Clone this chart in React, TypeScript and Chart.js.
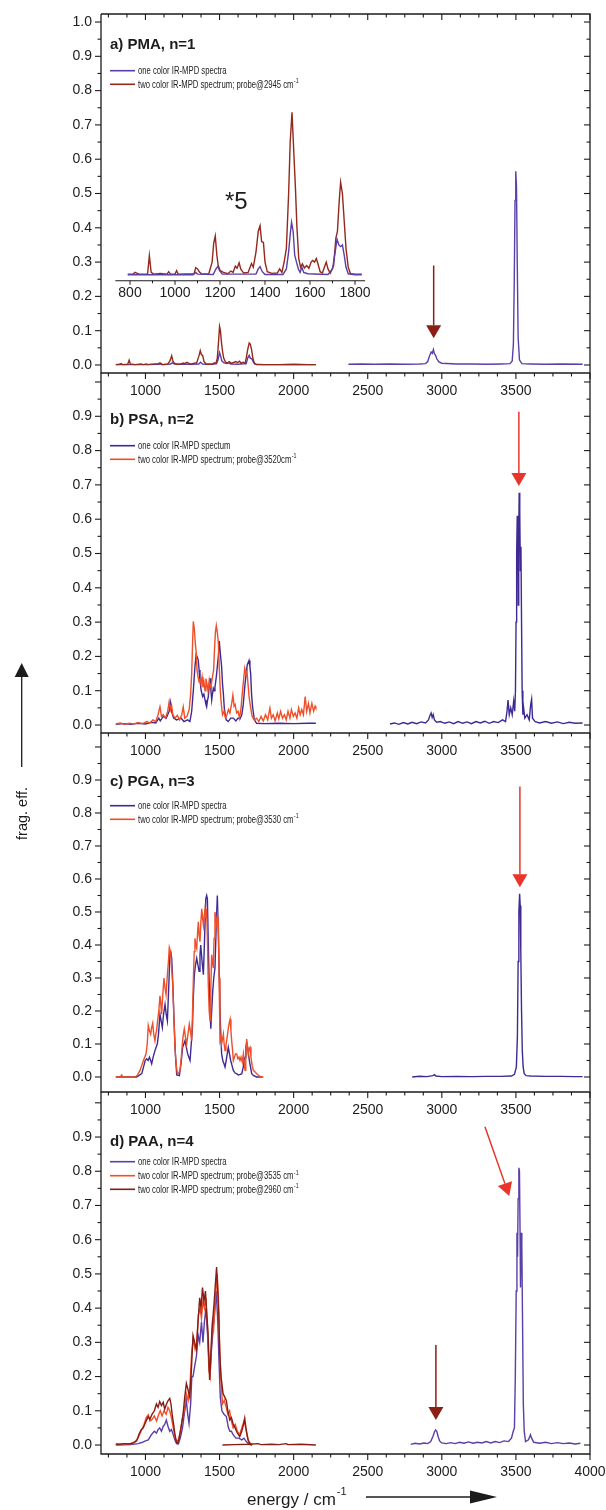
import React, { useEffect, useRef } from 'react';
import { Chart, registerables } from 'chart.js';

Chart.register(...registerables);

type Pt = [number, number];

const FONT = '"Liberation Sans", Arial, Helvetica, sans-serif';
const W = 606;
const H = 1510;
const INK = '#1c1c1c';

const PURPLE_A = '#5b3ea8';
const PURPLE_B = '#3f2a94';
const BROWN = '#93281c';
const ORANGE = '#ef4f29';
const DARKRED = '#871c14';
const ARROW_RED = '#e8342b';
const ARROW_BROWN = '#8a1f16';

// ---------- axes / tick labels ----------
const X_MIN = 700;
const X_MAX = 4000;
const X_LABELS_ABC = [1000, 1500, 2000, 2500, 3000, 3500];
const X_LABELS_D = [1000, 1500, 2000, 2500, 3000, 3500, 4000];
const Y_LABELS_A = [0, 0.1, 0.2, 0.3, 0.4, 0.5, 0.6, 0.7, 0.8, 0.9, 1.0];
const Y_LABELS_BCD = [0, 0.1, 0.2, 0.3, 0.4, 0.5, 0.6, 0.7, 0.8, 0.9];
const INSET_X_LABELS = [800, 1000, 1200, 1400, 1600, 1800];

// ---------- panel a) PMA ----------
const A_RED_LEFT: Pt[] = [
  [800, 0.001], [825, 0.002], [835, 0.004], [845, 0.001], [880, 0.002], [890, 0.014], [898, 0.003], [930, 0.001],
  [970, 0.003], [985, 0.001], [1005, 0.003], [1015, 0.001], [1090, 0.004], [1098, 0.006], [1106, 0.004], [1115, 0.001],
  [1150, 0.002], [1165, 0.012], [1177, 0.027], [1185, 0.012], [1195, 0.005], [1210, 0.002], [1240, 0.003], [1255, 0.006],
  [1265, 0.004], [1280, 0.008], [1290, 0.005], [1305, 0.002], [1335, 0.006], [1345, 0.005], [1360, 0.025], [1370, 0.042],
  [1378, 0.03], [1386, 0.028], [1395, 0.01], [1410, 0.002], [1450, 0.002], [1465, 0.006], [1475, 0.004], [1485, 0.02],
  [1492, 0.06], [1500, 0.112], [1506, 0.1], [1512, 0.07], [1520, 0.04], [1528, 0.02], [1540, 0.008], [1555, 0.006],
  [1565, 0.01], [1580, 0.005], [1600, 0.008], [1610, 0.01], [1620, 0.007], [1635, 0.011], [1645, 0.005], [1660, 0.008],
  [1672, 0.004], [1680, 0.02], [1690, 0.045], [1700, 0.064], [1708, 0.06], [1716, 0.045], [1725, 0.02], [1735, 0.005],
  [1750, 0.001], [1800, 0.001], [1900, 0.001], [2000, 0.002], [2100, 0.001], [2150, 0.001],
];
const A_BLUE_LEFT: Pt[] = [
  [800, 0.001], [900, 0.001], [1000, 0.001], [1090, 0.002], [1100, 0.003], [1110, 0.001], [1170, 0.003], [1182, 0.006],
  [1195, 0.003], [1250, 0.002], [1300, 0.002], [1360, 0.003], [1372, 0.008], [1385, 0.003], [1450, 0.002], [1480, 0.004],
  [1490, 0.015], [1500, 0.036], [1508, 0.025], [1515, 0.012], [1530, 0.006], [1550, 0.004], [1560, 0.007], [1575, 0.003],
  [1620, 0.002], [1680, 0.004], [1690, 0.02], [1700, 0.028], [1708, 0.02], [1718, 0.018], [1728, 0.008], [1740, 0.002],
  [1800, 0.001], [1900, 0.001], [2000, 0.001], [2150, 0.001],
];
const A_BLUE_RIGHT: Pt[] = [
  [2370, 0.002], [2450, 0.003], [2550, 0.002], [2650, 0.003], [2750, 0.002], [2850, 0.003], [2890, 0.004], [2905, 0.01],
  [2918, 0.028], [2928, 0.038], [2936, 0.034], [2943, 0.045], [2950, 0.033], [2958, 0.028], [2966, 0.018], [2980, 0.009],
  [3000, 0.005], [3100, 0.003], [3200, 0.003], [3300, 0.002], [3400, 0.003], [3460, 0.004], [3475, 0.012], [3483, 0.06],
  [3489, 0.25], [3494, 0.48], [3499, 0.565], [3504, 0.52], [3509, 0.3], [3515, 0.08], [3524, 0.015], [3540, 0.004],
  [3600, 0.003], [3700, 0.002], [3800, 0.003], [3950, 0.002],
];
const INSET_RED: Pt[] = [
  [790, 0.265], [815, 0.265], [822, 0.27], [830, 0.268], [840, 0.265], [878, 0.265], [886, 0.319], [894, 0.27],
  [905, 0.265], [935, 0.267], [965, 0.265], [972, 0.272], [980, 0.265], [1000, 0.265], [1007, 0.275], [1014, 0.265],
  [1085, 0.266], [1092, 0.284], [1100, 0.28], [1108, 0.272], [1118, 0.265], [1150, 0.266], [1165, 0.3], [1172, 0.355],
  [1179, 0.376], [1186, 0.32], [1192, 0.29], [1200, 0.276], [1215, 0.27], [1235, 0.266], [1248, 0.274], [1258, 0.27],
  [1268, 0.288], [1276, 0.282], [1285, 0.298], [1292, 0.28], [1305, 0.268], [1325, 0.27], [1340, 0.296], [1348, 0.285],
  [1360, 0.33], [1370, 0.39], [1378, 0.406], [1385, 0.36], [1393, 0.357], [1400, 0.3], [1410, 0.272], [1430, 0.267],
  [1455, 0.268], [1465, 0.28], [1475, 0.27], [1485, 0.3], [1495, 0.34], [1505, 0.5], [1512, 0.65], [1520, 0.737],
  [1528, 0.62], [1535, 0.52], [1542, 0.4], [1550, 0.31], [1558, 0.285], [1566, 0.295], [1575, 0.283], [1585, 0.29],
  [1595, 0.282], [1605, 0.3], [1612, 0.305], [1620, 0.3], [1628, 0.31], [1635, 0.296], [1645, 0.272], [1655, 0.268],
  [1664, 0.285], [1672, 0.3], [1680, 0.28], [1690, 0.268], [1705, 0.29], [1715, 0.37], [1722, 0.39], [1730, 0.48],
  [1736, 0.533], [1744, 0.5], [1752, 0.42], [1760, 0.34], [1770, 0.285], [1780, 0.266], [1800, 0.265], [1830, 0.265],
];
const INSET_BLUE: Pt[] = [
  [790, 0.263], [1080, 0.263], [1092, 0.27], [1100, 0.265], [1170, 0.264], [1182, 0.28], [1190, 0.287], [1198, 0.275],
  [1210, 0.265], [1360, 0.265], [1370, 0.28], [1378, 0.287], [1388, 0.272], [1400, 0.264], [1480, 0.264], [1495, 0.28],
  [1505, 0.33], [1512, 0.38], [1518, 0.416], [1525, 0.39], [1532, 0.32], [1540, 0.3], [1548, 0.28], [1556, 0.27],
  [1564, 0.285], [1572, 0.27], [1590, 0.266], [1680, 0.264], [1700, 0.28], [1712, 0.33], [1720, 0.367], [1728, 0.35],
  [1736, 0.345], [1744, 0.35], [1752, 0.32], [1760, 0.285], [1770, 0.266], [1800, 0.263], [1830, 0.263],
];

// ---------- panel b) PSA ----------
const B_RED: Pt[] = [
  [800, 0.003], [830, 0.006], [860, 0.002], [890, 0.005], [920, 0.003], [950, 0.007], [980, 0.004], [1010, 0.01],
  [1030, 0.006], [1050, 0.015], [1070, 0.01], [1085, 0.03], [1098, 0.053], [1108, 0.025], [1120, 0.03], [1135, 0.02],
  [1150, 0.04], [1160, 0.068], [1168, 0.045], [1176, 0.058], [1185, 0.03], [1200, 0.02], [1215, 0.028], [1230, 0.015],
  [1245, 0.03], [1255, 0.053], [1265, 0.02], [1280, 0.025], [1295, 0.045], [1305, 0.09], [1312, 0.15], [1318, 0.24],
  [1323, 0.302], [1330, 0.28], [1336, 0.24], [1342, 0.215], [1348, 0.16], [1355, 0.14], [1362, 0.125], [1368, 0.135],
  [1375, 0.12], [1382, 0.14], [1388, 0.11], [1395, 0.125], [1402, 0.1], [1408, 0.135], [1415, 0.12], [1422, 0.1],
  [1430, 0.13], [1437, 0.11], [1444, 0.118], [1452, 0.14], [1460, 0.16], [1466, 0.22], [1472, 0.27], [1478, 0.29],
  [1485, 0.27], [1492, 0.24], [1498, 0.17], [1505, 0.1], [1512, 0.06], [1520, 0.03], [1530, 0.04], [1540, 0.02],
  [1550, 0.03], [1560, 0.045], [1570, 0.035], [1582, 0.063], [1590, 0.087], [1598, 0.055], [1605, 0.06], [1615, 0.035],
  [1625, 0.04], [1635, 0.02], [1645, 0.05], [1655, 0.1], [1662, 0.13], [1670, 0.165], [1678, 0.15], [1685, 0.158],
  [1692, 0.12], [1700, 0.08], [1710, 0.05], [1720, 0.025], [1735, 0.015], [1750, 0.02], [1765, 0.01], [1780, 0.025],
  [1795, 0.012], [1810, 0.03], [1825, 0.015], [1840, 0.049], [1850, 0.02], [1862, 0.03], [1875, 0.012], [1890, 0.035],
  [1900, 0.018], [1912, 0.04], [1925, 0.02], [1938, 0.03], [1950, 0.015], [1962, 0.04], [1975, 0.02], [1985, 0.045],
  [1998, 0.025], [2010, 0.035], [2022, 0.02], [2034, 0.05], [2044, 0.03], [2055, 0.045], [2066, 0.03], [2078, 0.083],
  [2088, 0.04], [2100, 0.063], [2110, 0.035], [2123, 0.063], [2135, 0.04], [2145, 0.055], [2150, 0.05],
];
const B_BLUE: Pt[] = [
  [800, 0.002], [850, 0.004], [900, 0.002], [950, 0.005], [1000, 0.003], [1040, 0.008], [1070, 0.006], [1090, 0.02],
  [1100, 0.012], [1120, 0.025], [1140, 0.02], [1160, 0.04], [1168, 0.065], [1176, 0.04], [1190, 0.02], [1210, 0.015],
  [1240, 0.02], [1260, 0.01], [1285, 0.015], [1300, 0.01], [1312, 0.04], [1323, 0.1], [1334, 0.17], [1342, 0.205],
  [1348, 0.2], [1356, 0.19], [1362, 0.16], [1368, 0.13], [1376, 0.1], [1386, 0.083], [1394, 0.09], [1402, 0.073],
  [1408, 0.06], [1413, 0.053], [1418, 0.07], [1424, 0.083], [1430, 0.11], [1436, 0.136], [1442, 0.1], [1447, 0.073],
  [1452, 0.09], [1458, 0.107], [1464, 0.1], [1469, 0.11], [1478, 0.14], [1485, 0.17], [1492, 0.2], [1498, 0.245],
  [1505, 0.21], [1514, 0.17], [1520, 0.12], [1526, 0.09], [1532, 0.05], [1537, 0.034], [1545, 0.015], [1559, 0.01],
  [1575, 0.02], [1593, 0.02], [1610, 0.012], [1625, 0.02], [1638, 0.018], [1650, 0.03], [1660, 0.06], [1672, 0.12],
  [1680, 0.15], [1687, 0.175], [1699, 0.188], [1705, 0.17], [1710, 0.15], [1716, 0.09], [1723, 0.053], [1735, 0.015],
  [1750, 0.005], [1800, 0.004], [1900, 0.005], [2000, 0.004], [2100, 0.005], [2150, 0.005],
];
const B_BLUE_RIGHT: Pt[] = [
  [2650, 0.003], [2680, 0.006], [2710, 0.002], [2740, 0.007], [2770, 0.003], [2800, 0.008], [2830, 0.004], [2860, 0.009],
  [2890, 0.006], [2910, 0.015], [2920, 0.028], [2928, 0.035], [2935, 0.022], [2942, 0.03], [2950, 0.015], [2965, 0.008],
  [2990, 0.01], [3020, 0.005], [3050, 0.009], [3080, 0.004], [3110, 0.01], [3140, 0.005], [3170, 0.009], [3200, 0.004],
  [3230, 0.01], [3260, 0.006], [3290, 0.011], [3320, 0.005], [3350, 0.01], [3380, 0.007], [3410, 0.015], [3430, 0.01],
  [3440, 0.04], [3447, 0.073], [3455, 0.03], [3465, 0.05], [3475, 0.03], [3485, 0.07], [3492, 0.04], [3497, 0.1],
  [3501, 0.3], [3505, 0.5], [3509, 0.61], [3513, 0.58], [3516, 0.35], [3519, 0.55], [3522, 0.677], [3526, 0.62],
  [3530, 0.45], [3534, 0.52], [3538, 0.3], [3542, 0.1], [3547, 0.03], [3552, 0.05], [3560, 0.02], [3575, 0.03],
  [3590, 0.015], [3600, 0.06], [3606, 0.075], [3612, 0.02], [3630, 0.01], [3660, 0.006], [3700, 0.01], [3740, 0.005],
  [3780, 0.009], [3820, 0.004], [3860, 0.008], [3900, 0.005], [3950, 0.006],
];

// ---------- panel c) PGA ----------
const C_RED: Pt[] = [
  [800, 0.0], [830, 0.0], [839, 0.006], [848, 0.0], [930, 0.0], [945, 0.005], [963, 0.02], [975, 0.035], [986, 0.05],
  [995, 0.06], [1004, 0.07], [1012, 0.1], [1019, 0.156], [1027, 0.14], [1035, 0.13], [1042, 0.15], [1049, 0.163],
  [1056, 0.13], [1064, 0.11], [1070, 0.13], [1075, 0.14], [1082, 0.17], [1090, 0.2], [1098, 0.246], [1104, 0.22],
  [1109, 0.19], [1117, 0.25], [1125, 0.3], [1132, 0.27], [1139, 0.25], [1148, 0.31], [1155, 0.35], [1161, 0.393],
  [1166, 0.385], [1170, 0.38], [1177, 0.33], [1184, 0.28], [1192, 0.18], [1199, 0.09], [1207, 0.04], [1215, 0.011],
  [1224, 0.012], [1233, 0.02], [1242, 0.06], [1251, 0.11], [1256, 0.13], [1262, 0.146], [1270, 0.12], [1278, 0.1],
  [1287, 0.13], [1296, 0.16], [1303, 0.14], [1312, 0.11], [1318, 0.2], [1323, 0.29], [1329, 0.38], [1334, 0.42],
  [1340, 0.4], [1346, 0.39], [1352, 0.44], [1357, 0.47], [1362, 0.43], [1368, 0.41], [1374, 0.47], [1380, 0.51],
  [1386, 0.48], [1391, 0.46], [1397, 0.49], [1402, 0.51], [1408, 0.48], [1413, 0.51], [1419, 0.4], [1424, 0.28],
  [1430, 0.2], [1436, 0.17], [1441, 0.27], [1447, 0.37], [1452, 0.35], [1458, 0.33], [1463, 0.42], [1469, 0.5],
  [1475, 0.48], [1481, 0.46], [1486, 0.49], [1492, 0.47], [1497, 0.3], [1503, 0.11], [1509, 0.12], [1514, 0.1],
  [1520, 0.115], [1526, 0.13], [1531, 0.1], [1537, 0.08], [1543, 0.095], [1548, 0.11], [1554, 0.13], [1560, 0.15],
  [1566, 0.165], [1571, 0.175], [1577, 0.14], [1582, 0.11], [1588, 0.08], [1593, 0.05], [1600, 0.06], [1608, 0.07],
  [1616, 0.07], [1624, 0.055], [1631, 0.06], [1638, 0.05], [1645, 0.06], [1653, 0.045], [1661, 0.07], [1667, 0.04],
  [1672, 0.02], [1677, 0.06], [1683, 0.115], [1689, 0.09], [1694, 0.07], [1700, 0.085], [1706, 0.09], [1712, 0.06],
  [1720, 0.035], [1728, 0.02], [1740, 0.015], [1751, 0.01], [1765, 0.004], [1780, 0.0], [1796, 0.0],
];
const C_BLUE: Pt[] = [
  [800, 0.0], [940, 0.0], [955, 0.004], [975, 0.01], [987, 0.03], [998, 0.05], [1008, 0.055], [1018, 0.05],
  [1027, 0.06], [1035, 0.05], [1042, 0.04], [1052, 0.06], [1064, 0.08], [1072, 0.09], [1080, 0.1], [1088, 0.13],
  [1098, 0.19], [1106, 0.17], [1114, 0.15], [1122, 0.19], [1132, 0.22], [1140, 0.19], [1148, 0.17], [1156, 0.26],
  [1166, 0.38], [1172, 0.375], [1177, 0.36], [1185, 0.28], [1193, 0.17], [1202, 0.07], [1211, 0.006], [1229, 0.004],
  [1240, 0.04], [1251, 0.09], [1259, 0.1], [1267, 0.11], [1276, 0.09], [1285, 0.07], [1293, 0.06], [1301, 0.05],
  [1309, 0.1], [1317, 0.15], [1323, 0.24], [1330, 0.31], [1338, 0.34], [1346, 0.36], [1354, 0.34], [1362, 0.32],
  [1368, 0.37], [1373, 0.4], [1382, 0.35], [1391, 0.31], [1399, 0.42], [1407, 0.54], [1413, 0.55], [1418, 0.54],
  [1424, 0.4], [1430, 0.29], [1436, 0.2], [1441, 0.146], [1447, 0.2], [1454, 0.26], [1461, 0.3], [1469, 0.33],
  [1477, 0.45], [1485, 0.55], [1491, 0.45], [1498, 0.31], [1506, 0.16], [1514, 0.07], [1522, 0.05], [1530, 0.04],
  [1537, 0.03], [1545, 0.05], [1552, 0.07], [1559, 0.09], [1567, 0.07], [1575, 0.05], [1584, 0.035], [1593, 0.02],
  [1605, 0.012], [1615, 0.01], [1627, 0.006], [1640, 0.008], [1650, 0.01], [1660, 0.03], [1667, 0.055], [1672, 0.06],
  [1678, 0.09], [1683, 0.105], [1690, 0.09], [1695, 0.07], [1701, 0.05], [1709, 0.03], [1717, 0.01], [1730, 0.004],
  [1751, 0.0], [1790, 0.0],
];
const C_BLUE_RIGHT: Pt[] = [
  [2800, 0.0], [2850, 0.002], [2900, 0.001], [2940, 0.004], [2950, 0.007], [2960, 0.003], [3000, 0.001], [3100, 0.002],
  [3200, 0.001], [3300, 0.002], [3400, 0.002], [3470, 0.003], [3490, 0.008], [3503, 0.03], [3510, 0.12], [3515, 0.35],
  [3520, 0.5], [3525, 0.555], [3529, 0.52], [3533, 0.38], [3538, 0.2], [3543, 0.08], [3549, 0.03], [3556, 0.01],
  [3570, 0.004], [3600, 0.003], [3700, 0.002], [3800, 0.002], [3900, 0.001], [3950, 0.001],
];

// ---------- panel d) PAA ----------
const D_DARKRED: Pt[] = [
  [800, 0.003], [830, 0.002], [860, 0.004], [890, 0.003], [920, 0.006], [941, 0.012], [955, 0.03], [970, 0.044],
  [985, 0.05], [1000, 0.065], [1010, 0.075], [1019, 0.083], [1030, 0.075], [1045, 0.09], [1060, 0.1], [1074, 0.12],
  [1085, 0.11], [1096, 0.127], [1108, 0.115], [1120, 0.125], [1130, 0.105], [1142, 0.12], [1153, 0.13], [1164, 0.136],
  [1172, 0.12], [1180, 0.09], [1190, 0.06], [1198, 0.034], [1209, 0.008], [1218, 0.005], [1228, 0.02], [1240, 0.05],
  [1254, 0.09], [1265, 0.14], [1276, 0.18], [1288, 0.16], [1299, 0.14], [1310, 0.22], [1321, 0.32], [1332, 0.3],
  [1344, 0.28], [1355, 0.36], [1366, 0.43], [1375, 0.4], [1385, 0.46], [1395, 0.42], [1405, 0.45], [1414, 0.38],
  [1422, 0.33], [1433, 0.19], [1441, 0.26], [1448, 0.33], [1456, 0.375], [1464, 0.42], [1472, 0.47], [1480, 0.52],
  [1488, 0.45], [1495, 0.38], [1501, 0.27], [1510, 0.2], [1524, 0.15], [1535, 0.14], [1546, 0.13], [1556, 0.1],
  [1569, 0.073], [1580, 0.08], [1591, 0.063], [1605, 0.05], [1620, 0.035], [1636, 0.024], [1650, 0.04], [1662, 0.06],
  [1670, 0.078], [1678, 0.05], [1692, 0.015], [1705, 0.004], [1720, 0.0],
];
const D_DARKRED_TAIL: Pt[] = [
  [1520, 0.0], [1600, 0.001], [1700, 0.002], [1760, 0.004], [1780, 0.001], [1850, 0.002], [1900, 0.001], [1950, 0.004],
  [1960, 0.001], [2050, 0.002], [2150, 0.0],
];
const D_ORANGE: Pt[] = [
  [800, 0.001], [850, 0.003], [900, 0.004], [930, 0.01], [950, 0.02], [970, 0.04], [990, 0.06], [1005, 0.08],
  [1019, 0.088], [1030, 0.07], [1045, 0.075], [1060, 0.085], [1075, 0.07], [1090, 0.09], [1100, 0.1], [1112, 0.085],
  [1125, 0.1], [1140, 0.09], [1152, 0.11], [1164, 0.1], [1175, 0.08], [1188, 0.05], [1198, 0.025], [1210, 0.01],
  [1222, 0.015], [1235, 0.04], [1250, 0.08], [1262, 0.1], [1276, 0.15], [1288, 0.13], [1300, 0.17], [1312, 0.27],
  [1323, 0.31], [1335, 0.28], [1346, 0.3], [1357, 0.38], [1368, 0.4], [1378, 0.37], [1388, 0.42], [1398, 0.4],
  [1408, 0.43], [1418, 0.35], [1428, 0.22], [1436, 0.2], [1444, 0.28], [1452, 0.36], [1460, 0.34], [1468, 0.41],
  [1476, 0.45], [1484, 0.5], [1492, 0.43], [1500, 0.3], [1508, 0.2], [1520, 0.12], [1532, 0.13], [1545, 0.11],
  [1556, 0.09], [1568, 0.1], [1580, 0.07], [1592, 0.05], [1606, 0.06], [1620, 0.04], [1635, 0.03], [1650, 0.05],
  [1665, 0.07], [1672, 0.06], [1685, 0.03], [1698, 0.008], [1720, 0.001],
];
const D_BLUE_LEFT: Pt[] = [
  [800, 0.0], [900, 0.001], [950, 0.004], [980, 0.008], [1000, 0.012], [1019, 0.015], [1040, 0.03], [1060, 0.04],
  [1074, 0.035], [1085, 0.045], [1096, 0.05], [1108, 0.04], [1120, 0.055], [1130, 0.06], [1141, 0.073], [1152, 0.055],
  [1164, 0.04], [1175, 0.045], [1188, 0.03], [1198, 0.015], [1210, 0.004], [1222, 0.003], [1235, 0.02], [1250, 0.05],
  [1262, 0.09], [1276, 0.13], [1285, 0.09], [1294, 0.063], [1305, 0.12], [1313, 0.2], [1321, 0.2], [1332, 0.23],
  [1344, 0.26], [1356, 0.32], [1366, 0.3], [1378, 0.36], [1388, 0.3], [1398, 0.36], [1408, 0.4], [1418, 0.33],
  [1428, 0.25], [1435, 0.2], [1444, 0.27], [1455, 0.33], [1466, 0.38], [1478, 0.45], [1488, 0.36], [1496, 0.25],
  [1505, 0.14], [1516, 0.1], [1530, 0.09], [1546, 0.083], [1560, 0.05], [1570, 0.04], [1580, 0.04], [1592, 0.03],
  [1610, 0.02], [1630, 0.02], [1650, 0.015], [1665, 0.02], [1680, 0.01], [1700, 0.002], [1720, 0.0],
];
const D_BLUE_RIGHT: Pt[] = [
  [2790, 0.002], [2820, 0.005], [2850, 0.003], [2880, 0.006], [2905, 0.004], [2925, 0.01], [2940, 0.025], [2950, 0.038],
  [2958, 0.044], [2966, 0.04], [2975, 0.025], [2985, 0.012], [3000, 0.006], [3030, 0.004], [3060, 0.007], [3090, 0.004],
  [3120, 0.008], [3150, 0.005], [3180, 0.009], [3210, 0.005], [3240, 0.008], [3270, 0.006], [3300, 0.01], [3330, 0.006],
  [3360, 0.01], [3390, 0.007], [3420, 0.012], [3450, 0.01], [3470, 0.02], [3482, 0.04], [3490, 0.05], [3496, 0.2],
  [3502, 0.45], [3507, 0.62], [3511, 0.55], [3515, 0.72], [3520, 0.81], [3524, 0.8], [3528, 0.62], [3531, 0.46],
  [3535, 0.62], [3540, 0.58], [3545, 0.35], [3550, 0.12], [3556, 0.04], [3565, 0.01], [3585, 0.015], [3598, 0.03],
  [3606, 0.02], [3620, 0.008], [3660, 0.005], [3700, 0.008], [3740, 0.004], [3780, 0.007], [3820, 0.004], [3860, 0.006],
  [3900, 0.003], [3935, 0.005],
];

// ---------- panel configuration ----------
interface Series { data: Pt[]; color: string; xAxis?: string }
interface LegendItem { color: string; text: string; sup?: string; y: number }
interface ArrowSpec { x1: number; y1: number; x2: number; y2: number; color: string }
interface PanelCfg {
  key: string; top: number; bottom: number; yMin: number; yMax: number;
  yLabels: number[]; xLabels: number[]; topLine: boolean;
  title: string; titleY: number; legend: LegendItem[]; series: Series[]; arrows: ArrowSpec[];
  inset?: boolean; figure?: boolean;
}

const INSET_MIN = 671.1;
const INSET_MAX = 2844.4;
const INSET_AXIS_Y = 0.2456;

const PANELS: PanelCfg[] = [
  {
    key: 'a', top: 14, bottom: 373, yMin: -0.0234, yMax: 1.0234, yLabels: Y_LABELS_A, xLabels: X_LABELS_ABC, topLine: true,
    title: 'a) PMA, n=1', titleY: 45,
    legend: [
      { color: PURPLE_A, text: 'one color IR-MPD spectra', y: 70.7 },
      { color: BROWN, text: 'two color IR-MPD spectrum; probe@2945 cm', sup: '-1', y: 84.3 },
    ],
    series: [
      { data: A_RED_LEFT, color: BROWN },
      { data: A_BLUE_LEFT, color: PURPLE_A },
      { data: A_BLUE_RIGHT, color: PURPLE_A },
      { data: INSET_BLUE, color: PURPLE_A, xAxis: 'xi' },
      { data: INSET_RED, color: BROWN, xAxis: 'xi' },
    ],
    arrows: [{ x1: 2945, y1: 0.29, x2: 2945, y2: 0.078, color: ARROW_BROWN }],
    inset: true,
  },
  {
    key: 'b', top: 373, bottom: 733, yMin: -0.0233, yMax: 1.0262, yLabels: Y_LABELS_BCD, xLabels: X_LABELS_ABC, topLine: false,
    title: 'b) PSA, n=2', titleY: 420,
    legend: [
      { color: PURPLE_B, text: 'one color IR-MPD spectum', y: 445.7 },
      { color: ORANGE, text: 'two color IR-MPD spectrum; probe@3520cm', sup: '-1', y: 459.3 },
    ],
    series: [
      { data: B_RED, color: ORANGE },
      { data: B_BLUE, color: PURPLE_B },
      { data: B_BLUE_RIGHT, color: PURPLE_B },
    ],
    arrows: [{ x1: 3520, y1: 0.913, x2: 3520, y2: 0.697, color: ARROW_RED }],
  },
  {
    key: 'c', top: 733, bottom: 1092, yMin: -0.0455, yMax: 1.0424, yLabels: Y_LABELS_BCD, xLabels: X_LABELS_ABC, topLine: false,
    title: 'c) PGA, n=3', titleY: 781.7,
    legend: [
      { color: PURPLE_B, text: 'one color IR-MPD spectra', y: 805.7 },
      { color: ORANGE, text: 'two color IR-MPD spectrum; probe@3530 cm', sup: '-1', y: 819.3 },
    ],
    series: [
      { data: C_RED, color: ORANGE },
      { data: C_BLUE, color: PURPLE_B },
      { data: C_BLUE_RIGHT, color: PURPLE_B },
    ],
    arrows: [{ x1: 3527, y1: 0.88, x2: 3527, y2: 0.575, color: ARROW_RED }],
  },
  {
    key: 'd', top: 1092, bottom: 1454, yMin: -0.0263, yMax: 1.0316, yLabels: Y_LABELS_BCD, xLabels: X_LABELS_D, topLine: false,
    title: 'd) PAA, n=4', titleY: 1141.7,
    legend: [
      { color: PURPLE_A, text: 'one color IR-MPD spectra', y: 1161.7 },
      { color: ORANGE, text: 'two color IR-MPD spectrum; probe@3535 cm', sup: '-1', y: 1175.7 },
      { color: DARKRED, text: 'two color IR-MPD spectrum; probe@2960 cm', sup: '-1', y: 1189.3 },
    ],
    series: [
      { data: D_DARKRED, color: DARKRED },
      { data: D_DARKRED_TAIL, color: DARKRED },
      { data: D_ORANGE, color: ORANGE },
      { data: D_BLUE_LEFT, color: PURPLE_A },
      { data: D_BLUE_RIGHT, color: PURPLE_A },
    ],
    arrows: [
      { x1: 3291, y1: 0.93, x2: 3455, y2: 0.728, color: ARROW_RED },
      { x1: 2960, y1: 0.292, x2: 2960, y2: 0.073, color: ARROW_BROWN },
    ],
    figure: true,
  },
];

// ---------- drawing helpers ----------
function seg(ctx: CanvasRenderingContext2D, x1: number, y1: number, x2: number, y2: number) {
  ctx.beginPath();
  ctx.moveTo(x1, y1);
  ctx.lineTo(x2, y2);
  ctx.stroke();
}

function drawArrow(ctx: CanvasRenderingContext2D, x1: number, y1: number, x2: number, y2: number,
  color: string, headLen: number, headW: number, lw: number) {
  const dx = x2 - x1, dy = y2 - y1;
  const L = Math.hypot(dx, dy);
  const ux = dx / L, uy = dy / L;
  const bx = x2 - ux * headLen, by = y2 - uy * headLen;
  ctx.strokeStyle = color;
  ctx.fillStyle = color;
  ctx.lineWidth = lw;
  seg(ctx, x1, y1, bx, by);
  ctx.beginPath();
  ctx.moveTo(x2, y2);
  ctx.lineTo(bx - uy * headW / 2, by + ux * headW / 2);
  ctx.lineTo(bx + uy * headW / 2, by - ux * headW / 2);
  ctx.closePath();
  ctx.fill();
}

function makeDecor(p: PanelCfg) {
  return {
    id: 'decor_' + p.key,
    afterDraw(chart: any) {
      const ctx: CanvasRenderingContext2D = chart.ctx;
      const { left, right, top, bottom } = chart.chartArea;
      const xs = chart.scales.x;
      const ys = chart.scales.y;
      ctx.save();
      ctx.strokeStyle = INK;
      ctx.lineWidth = 1.3;
      ctx.lineCap = 'butt';
      // frame
      ctx.beginPath();
      ctx.moveTo(left, top);
      ctx.lineTo(left, bottom);
      ctx.lineTo(right, bottom);
      ctx.lineTo(right, top);
      if (p.topLine) ctx.lineTo(left, top);
      ctx.stroke();
      ctx.lineWidth = 1.1;
      // y ticks (left: outward, right: inward)
      for (let i = 0; i * 0.05 <= ys.max + 1e-9; i++) {
        const v = i * 0.05;
        const py = ys.getPixelForValue(v);
        const len = i % 2 === 0 ? 6 : 3.5;
        seg(ctx, left - len, py, left, py);
        seg(ctx, right - len, py, right, py);
      }
      // x ticks (bottom: outward, top: inward)
      for (let v = 750; v <= X_MAX; v += 125) {
        const px = xs.getPixelForValue(v);
        const len = v % 500 === 0 ? 6 : 3.5;
        seg(ctx, px, bottom, px, bottom + len);
        if (p.topLine) seg(ctx, px, top, px, top + len);
      }
      // inset axis
      if (p.inset) {
        const xi = chart.scales.xi;
        const ay = ys.getPixelForValue(INSET_AXIS_Y);
        ctx.lineWidth = 1.2;
        seg(ctx, xi.getPixelForValue(735), ay, xi.getPixelForValue(1845), ay);
        ctx.lineWidth = 1;
        for (let v = 800; v <= 1800; v += 100) {
          const px = xi.getPixelForValue(v);
          seg(ctx, px, ay, px, ay + (v % 200 === 0 ? 4 : 2.5));
        }
        ctx.fillStyle = INK;
        ctx.font = `14px ${FONT}`;
        ctx.textAlign = 'center';
        ctx.textBaseline = 'middle';
        INSET_X_LABELS.forEach((v) => ctx.fillText(String(v), xi.getPixelForValue(v), ay + 12.5));
        ctx.font = `24px ${FONT}`;
        ctx.textAlign = 'left';
        ctx.textBaseline = 'alphabetic';
        ctx.fillText('*5', 225, 208.5);
      }
      // title
      ctx.fillStyle = INK;
      ctx.font = `bold 15px ${FONT}`;
      ctx.textAlign = 'left';
      ctx.textBaseline = 'middle';
      ctx.fillText(p.title, 110, p.titleY);
      // legend
      p.legend.forEach((it) => {
        ctx.strokeStyle = it.color;
        ctx.lineWidth = 1.6;
        seg(ctx, 110, it.y, 135, it.y);
        ctx.save();
        ctx.translate(138, it.y);
        ctx.scale(0.77, 1);
        ctx.fillStyle = INK;
        ctx.font = `10px ${FONT}`;
        ctx.textBaseline = 'middle';
        ctx.fillText(it.text, 0, 0.5);
        if (it.sup) {
          const w = ctx.measureText(it.text).width;
          ctx.font = `7px ${FONT}`;
          ctx.fillText(it.sup, w + 0.5, -3);
        }
        ctx.restore();
      });
      // arrows
      p.arrows.forEach((a) => {
        drawArrow(ctx, xs.getPixelForValue(a.x1), ys.getPixelForValue(a.y1),
          xs.getPixelForValue(a.x2), ys.getPixelForValue(a.y2), a.color, 13, 15, 1.5);
      });
      // figure-level axis titles
      if (p.figure) {
        ctx.fillStyle = INK;
        ctx.save();
        ctx.translate(22.7, 813.5);
        ctx.rotate(-Math.PI / 2);
        ctx.font = `14.5px ${FONT}`;
        ctx.textAlign = 'center';
        ctx.textBaseline = 'middle';
        ctx.fillText('frag. eff.', 0, 0);
        ctx.restore();
        drawArrow(ctx, 21.7, 767, 21.7, 663, INK, 14, 14, 1.3);
        ctx.font = `17px ${FONT}`;
        ctx.textAlign = 'left';
        ctx.textBaseline = 'middle';
        const t = 'energy / cm';
        ctx.fillText(t, 247, 1500);
        const tw = ctx.measureText(t).width;
        ctx.font = `11px ${FONT}`;
        ctx.fillText('-1', 247 + tw + 1, 1492);
        drawArrow(ctx, 366, 1497, 497, 1497, INK, 27, 13, 1.3);
      }
      ctx.restore();
    },
  };
}

function Panel({ cfg }: { cfg: PanelCfg }) {
  const ref = useRef<HTMLCanvasElement>(null);
  useEffect(() => {
    const canvas = ref.current;
    if (!canvas) return;
    const tickFont = { family: FONT, size: 14 };
    const scales: any = {
      x: {
        type: 'linear', position: 'bottom', min: X_MIN, max: X_MAX,
        afterFit: (s: any) => { s.height = 30; s.paddingLeft = 0; s.paddingRight = 0; },
        afterBuildTicks: (s: any) => { s.ticks = cfg.xLabels.map((v) => ({ value: v })); },
        grid: { display: false, drawTicks: false },
        border: { display: false },
        ticks: {
          callback: (v: any) => String(v), font: tickFont, color: INK, padding: 10,
          maxRotation: 0, minRotation: 0, autoSkip: false,
        },
      },
      y: {
        type: 'linear', position: 'left', min: cfg.yMin, max: cfg.yMax,
        afterFit: (s: any) => { s.width = 60; s.paddingTop = 0; s.paddingBottom = 0; },
        afterBuildTicks: (s: any) => { s.ticks = cfg.yLabels.map((v) => ({ value: v })); },
        grid: { display: false, drawTicks: false },
        border: { display: false },
        ticks: { callback: (v: any) => Number(v).toFixed(1), font: tickFont, color: INK, padding: 9, autoSkip: false },
      },
    };
    if (cfg.inset) {
      scales.xi = { type: 'linear', display: false, min: INSET_MIN, max: INSET_MAX };
    }
    const chart = new Chart(canvas, {
      type: 'line',
      data: {
        datasets: cfg.series.map((s) => ({
          data: s.data.map(([x, y]) => ({ x, y })),
          borderColor: s.color,
          borderWidth: 1.4,
          pointRadius: 0,
          fill: false,
          tension: 0,
          xAxisID: s.xAxis || 'x',
          yAxisID: 'y',
        })),
      },
      options: {
        responsive: false,
        animation: false,
        devicePixelRatio: 1,
        events: [],
        layout: { padding: { left: 41, right: 16, top: cfg.top, bottom: H - cfg.bottom - 30 } },
        plugins: { legend: { display: false }, tooltip: { enabled: false }, title: { display: false } },
        scales,
      },
      plugins: [makeDecor(cfg)],
    } as any);
    return () => chart.destroy();
  }, [cfg]);
  return (
    <canvas
      ref={ref}
      width={W}
      height={H}
      style={{ position: 'absolute', left: 0, top: 0, width: W, height: H, display: 'block' }}
    />
  );
}

export default function App() {
  return (
    <div style={{ position: 'absolute', left: 0, top: 0, width: W, height: H, background: '#ffffff' }}>
      {PANELS.map((p) => (
        <Panel key={p.key} cfg={p} />
      ))}
    </div>
  );
}
